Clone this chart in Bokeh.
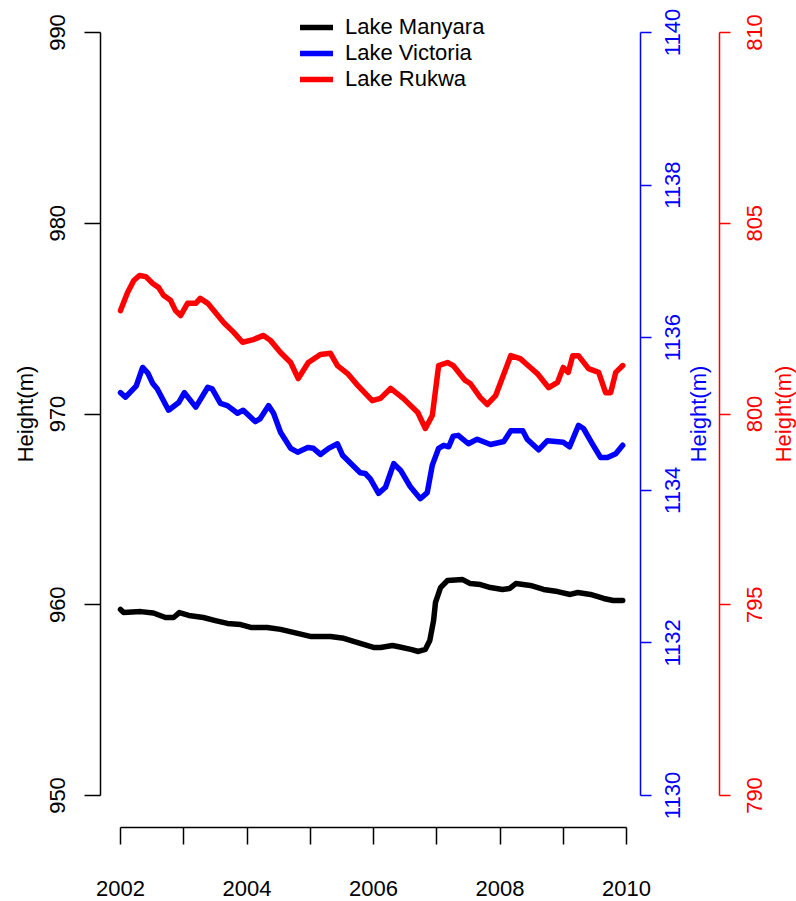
import math

from bokeh.core.properties import value
from bokeh.embed import file_html
from bokeh.models import (FixedTicker, Legend, LegendItem, LinearAxis,
                          Range1d)
from bokeh.plotting import figure
from bokeh.resources import INLINE

# ---------------------------------------------------------------------------
# Lake surface heights (m) from satellite altimetry, 2002-2010
# ---------------------------------------------------------------------------
manyara_year = [2002.00, 2002.05, 2002.32, 2002.52, 2002.71, 2002.84, 2002.93,
                2003.08, 2003.31, 2003.50, 2003.69, 2003.90, 2004.06, 2004.32,
                2004.53, 2004.80, 2005.00, 2005.32, 2005.53, 2005.79, 2006.00,
                2006.11, 2006.30, 2006.38, 2006.59, 2006.71, 2006.82, 2006.89,
                2006.95, 2006.98, 2007.06, 2007.17, 2007.41, 2007.53, 2007.69,
                2007.85, 2008.04, 2008.15, 2008.25, 2008.48, 2008.69, 2008.91,
                2009.11, 2009.23, 2009.43, 2009.64, 2009.79, 2009.94]
manyara_height = [959.75, 959.59, 959.64, 959.57, 959.33, 959.33, 959.59,
                  959.44, 959.33, 959.17, 959.02, 958.96, 958.81, 958.81,
                  958.71, 958.50, 958.34, 958.34, 958.24, 957.97, 957.76,
                  957.76, 957.86, 957.81, 957.66, 957.55, 957.66, 958.13,
                  959.17, 960.12, 960.90, 961.27, 961.32, 961.11, 961.06,
                  960.90, 960.80, 960.85, 961.11, 961.01, 960.80, 960.69,
                  960.54, 960.64, 960.54, 960.33, 960.22, 960.22]

victoria_year = [2002.00, 2002.08, 2002.25, 2002.35, 2002.43, 2002.51, 2002.58,
                 2002.76, 2002.92, 2003.01, 2003.19, 2003.38, 2003.45, 2003.58,
                 2003.69, 2003.85, 2003.94, 2004.13, 2004.21, 2004.34, 2004.42,
                 2004.53, 2004.69, 2004.80, 2004.96, 2005.05, 2005.16, 2005.29,
                 2005.43, 2005.51, 2005.79, 2005.87, 2005.95, 2006.08, 2006.19,
                 2006.32, 2006.43, 2006.58, 2006.74, 2006.85, 2006.93, 2007.03,
                 2007.11, 2007.19, 2007.26, 2007.34, 2007.50, 2007.64, 2007.85,
                 2008.06, 2008.17, 2008.36, 2008.43, 2008.61, 2008.75, 2009.00,
                 2009.10, 2009.24, 2009.32, 2009.46, 2009.59, 2009.70, 2009.83,
                 2009.94]
victoria_height = [1135.28, 1135.22, 1135.37, 1135.61, 1135.54, 1135.40, 1135.33,
                   1135.05, 1135.15, 1135.28, 1135.09, 1135.35, 1135.33, 1135.14,
                   1135.11, 1135.01, 1135.05, 1134.90, 1134.94, 1135.11, 1135.01,
                   1134.76, 1134.55, 1134.50, 1134.56, 1134.55, 1134.47, 1134.55,
                   1134.61, 1134.46, 1134.23, 1134.22, 1134.15, 1133.96, 1134.04,
                   1134.35, 1134.26, 1134.05, 1133.89, 1133.97, 1134.33, 1134.55,
                   1134.59, 1134.57, 1134.71, 1134.72, 1134.61, 1134.67, 1134.60,
                   1134.64, 1134.78, 1134.78, 1134.67, 1134.53, 1134.65, 1134.63,
                   1134.57, 1134.85, 1134.81, 1134.61, 1134.43, 1134.43, 1134.48,
                   1134.59]

rukwa_year = [2002.00, 2002.11, 2002.21, 2002.30, 2002.40, 2002.51, 2002.60,
              2002.68, 2002.79, 2002.87, 2002.95, 2003.06, 2003.19, 2003.26,
              2003.38, 2003.50, 2003.63, 2003.79, 2003.93, 2004.10, 2004.26,
              2004.37, 2004.53, 2004.69, 2004.81, 2004.97, 2005.16, 2005.32,
              2005.43, 2005.59, 2005.75, 2005.98, 2006.11, 2006.27, 2006.47,
              2006.70, 2006.82, 2006.93, 2007.03, 2007.17, 2007.26, 2007.45,
              2007.53, 2007.69, 2007.80, 2007.93, 2008.17, 2008.32, 2008.48,
              2008.59, 2008.77, 2008.91, 2009.00, 2009.08, 2009.15, 2009.24,
              2009.40, 2009.56, 2009.67, 2009.75, 2009.83, 2009.94]
rukwa_height = [802.71, 803.18, 803.50, 803.63, 803.60, 803.42, 803.32,
                803.11, 802.98, 802.71, 802.58, 802.90, 802.90, 803.03,
                802.90, 802.66, 802.40, 802.14, 801.88, 801.95, 802.06,
                801.93, 801.61, 801.35, 800.93, 801.35, 801.56, 801.59,
                801.27, 801.06, 800.75, 800.35, 800.41, 800.67, 800.41,
                800.04, 799.62, 799.96, 801.27, 801.35, 801.27, 800.88,
                800.80, 800.43, 800.25, 800.48, 801.53, 801.45, 801.22,
                801.06, 800.69, 800.83, 801.22, 801.09, 801.53, 801.53,
                801.19, 801.09, 800.56, 800.56, 801.09, 801.27]

series_names = ["Lake Manyara", "Lake Victoria", "Lake Rukwa"]
series_colors = ["#000000", "#0000FF", "#FF0000"]

year_ticks = [2002, 2003, 2004, 2005, 2006, 2007, 2008, 2009, 2010]
year_labels = ["2002", "", "2004", "", "2006", "", "2008", "", "2010"]
manyara_ticks = [950, 960, 970, 980, 990]
manyara_labels = ["950", "960", "970", "980", "990"]
victoria_ticks = [1130, 1132, 1134, 1136, 1138, 1140]
victoria_labels = ["1130", "1132", "1134", "1136", "1138", "1140"]
rukwa_ticks = [790, 795, 800, 805, 810]
rukwa_labels = ["790", "795", "800", "805", "810"]
axis_title = "Height(m)"

# ---------------------------------------------------------------------------
# Page geometry (pixels); the plot frame fills the whole page and the axes
# are pinned at fixed positions inside it.
# ---------------------------------------------------------------------------
W, H = 796, 901
X0_PX, X1_PX = 120, 626          # where 2002 and 2010 fall
YTOP_PX, YBOT_PX = 32, 795       # where the top / bottom y ticks fall
XAXIS_PX = 827                   # baseline of the year axis
LEFT_AXIS_PX, BLUE_AXIS_PX, RED_AXIS_PX = 100, 640, 719
LEFT_LABEL_PX, BLUE_LABEL_PX, RED_LABEL_PX = 56.5, 671.5, 754
LEFT_TITLE_PX, BLUE_TITLE_PX, RED_TITLE_PX = 25, 698, 783

px_per_year = (X1_PX - X0_PX) / (year_ticks[-1] - year_ticks[0])


def px_to_year(px):
    return year_ticks[0] + (px - X0_PX) / px_per_year


def px_per_unit(ticks):
    return (YBOT_PX - YTOP_PX) / (ticks[-1] - ticks[0])


def y_range_for(ticks):
    per = px_per_unit(ticks)
    return Range1d(ticks[0] - (H - YBOT_PX) / per, ticks[-1] + YTOP_PX / per)


def py_to_val(py, ticks):
    return ticks[0] - (py - YBOT_PX) / px_per_unit(ticks)


FONT = "Liberation Sans"
FONT_SIZE = "22px"
UPRIGHT = math.pi / 2   # text read from bottom to top

p = figure(
    width=W, height=H,
    output_backend="svg", toolbar_location=None,
    x_range=Range1d(px_to_year(0), px_to_year(W)),
    y_range=y_range_for(manyara_ticks),
    x_axis_location=None, y_axis_location=None,
    min_border=0,
    outline_line_color=None,
    background_fill_color="white", border_fill_color="white",
)
p.grid.visible = False
p.extra_y_ranges = {
    "victoria": y_range_for(victoria_ticks),
    "rukwa": y_range_for(rukwa_ticks),
}


def make_axis(ticks, color, tick_len, **kw):
    axis = LinearAxis(
        ticker=FixedTicker(ticks=ticks),
        bounds=(ticks[0], ticks[-1]),
        axis_line_color=color, axis_line_width=1.5,
        major_tick_line_color=color, major_tick_line_width=1.5,
        major_tick_in=0, major_tick_out=tick_len,
        minor_tick_line_color=None,
        major_label_text_color=color,
        major_label_text_font=FONT, major_label_text_font_size=FONT_SIZE,
        **kw,
    )
    return axis


# bottom: years
x_axis = make_axis(
    year_ticks, "black", 17,
    major_label_overrides={t: lab for t, lab in zip(year_ticks, year_labels)},
    major_label_standoff=36,
    fixed_location=py_to_val(XAXIS_PX, manyara_ticks),
)
p.add_layout(x_axis, "below")

# vertical axes: tick labels are drawn separately so they can read upwards
blank = {}
for ticks, color, tick_len, side, loc, rng in [
    (manyara_ticks, "black", 16, "left", LEFT_AXIS_PX, "default"),
    (victoria_ticks, "#0000FF", 11, "right", BLUE_AXIS_PX, "victoria"),
    (rukwa_ticks, "#FF0000", 11, "right", RED_AXIS_PX, "rukwa"),
]:
    axis = make_axis(ticks, color, tick_len,
                     y_range_name=rng,
                     fixed_location=px_to_year(loc),
                     major_label_overrides={t: "" for t in ticks})
    p.add_layout(axis, side)

for ticks, labels, color, px, rng in [
    (manyara_ticks, manyara_labels, "black", LEFT_LABEL_PX, "default"),
    (victoria_ticks, victoria_labels, "#0000FF", BLUE_LABEL_PX, "victoria"),
    (rukwa_ticks, rukwa_labels, "#FF0000", RED_LABEL_PX, "rukwa"),
]:
    p.text(x=[px_to_year(px)] * len(ticks), y=ticks, text=labels,
           angle=UPRIGHT, text_align="center", text_baseline="middle",
           text_font=value(FONT), text_font_size=value(FONT_SIZE),
           text_color=color, y_range_name=rng)

# axis titles, centred on the plotting region
title_y = (manyara_ticks[0] + manyara_ticks[-1]) / 2
for px, color in [(LEFT_TITLE_PX, "black"), (BLUE_TITLE_PX, "#0000FF"),
                  (RED_TITLE_PX, "#FF0000")]:
    p.text(x=[px_to_year(px)], y=[title_y], text=[axis_title],
           angle=UPRIGHT, text_align="center", text_baseline="middle",
           text_font=value(FONT), text_font_size=value(FONT_SIZE),
           text_color=color)

# series
renderers = []
for xs, ys, color, rng in [
    (manyara_year, manyara_height, series_colors[0], "default"),
    (victoria_year, victoria_height, series_colors[1], "victoria"),
    (rukwa_year, rukwa_height, series_colors[2], "rukwa"),
]:
    r = p.line(xs, ys, line_color=color, line_width=5.5,
               line_join="round", line_cap="round", y_range_name=rng)
    renderers.append(r)

legend = Legend(
    items=[LegendItem(label=n, renderers=[r]) for n, r in zip(series_names, renderers)],
    location=(300, H - 92),
    label_text_font=FONT, label_text_font_size=FONT_SIZE, label_text_color="black",
    glyph_width=33, glyph_height=24, label_height=24, label_standoff=12,
    spacing=0, padding=0, margin=0,
    border_line_color=None, background_fill_alpha=0,
)
p.add_layout(legend)

open("out.html", "w").write(file_html(p, INLINE))
